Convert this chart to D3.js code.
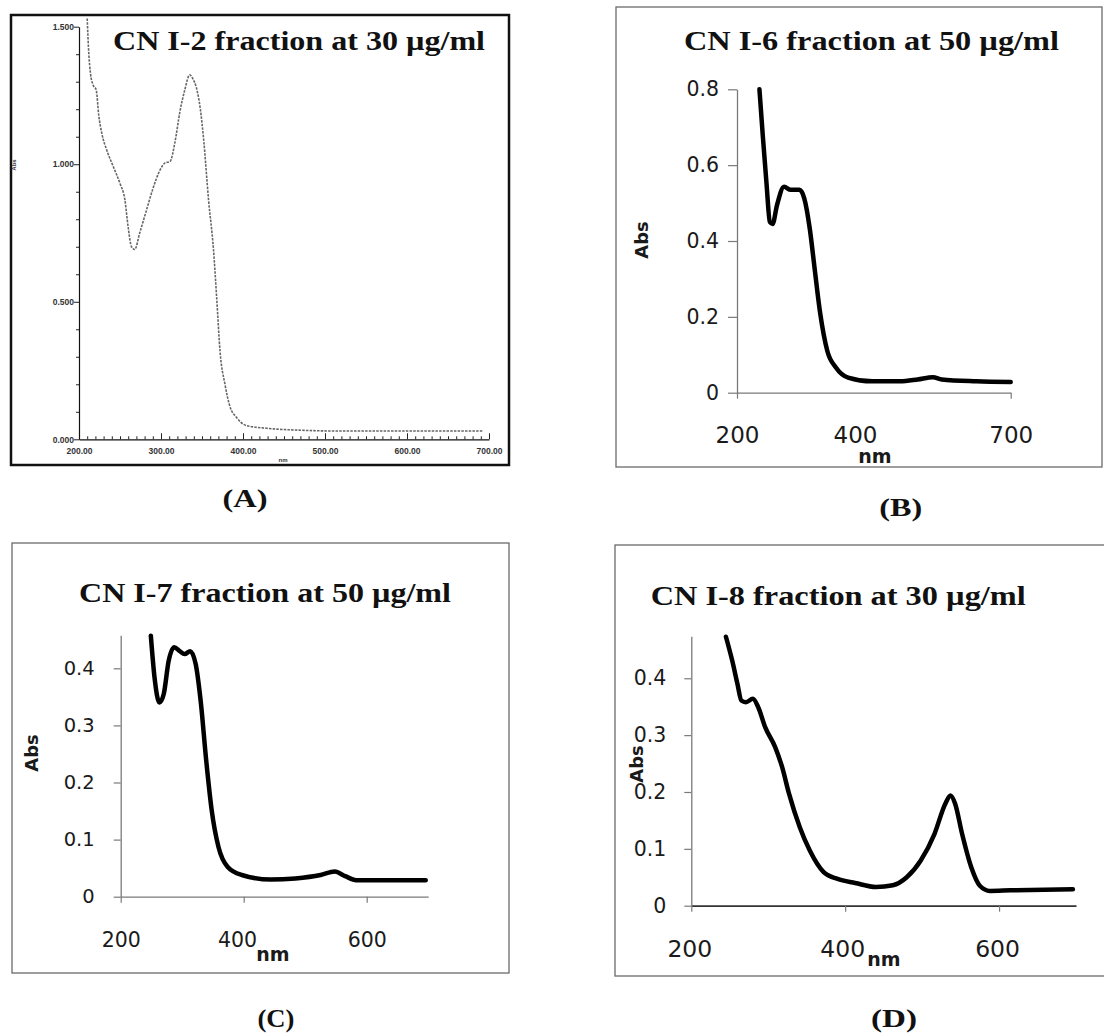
<!DOCTYPE html>
<html>
<head>
<meta charset="utf-8">
<script src="https://cdn.jsdelivr.net/npm/d3@7"></script>
<style>
  html, body { margin: 0; padding: 0; background: #fff; }
  svg { display: block; }
</style>
</head>
<body>
<div id="chart"></div>
<script>
// ---- data ----
const nmA = [210, 212, 214, 217, 221, 224, 228, 234, 242, 250, 256, 260, 264, 268, 274, 282, 290, 299, 305, 311, 317, 323, 329, 335, 339, 343, 348, 352, 358, 364, 368, 372, 378, 384, 392, 404, 429, 470, 520, 600, 650, 692];
const absA = [1.53, 1.40, 1.33, 1.29, 1.27, 1.18, 1.11, 1.05, 0.99, 0.93, 0.87, 0.77, 0.70, 0.69, 0.75, 0.83, 0.91, 0.98, 1.005, 1.01, 1.08, 1.19, 1.27, 1.325, 1.31, 1.28, 1.20, 1.09, 0.87, 0.69, 0.51, 0.32, 0.20, 0.12, 0.08, 0.05, 0.04, 0.033, 0.03, 0.03, 0.03, 0.03];

const nmB = [241, 247, 254, 260, 265, 273, 286, 298, 314, 323, 333, 342, 352, 365, 381, 403, 447, 498, 530, 558, 574, 637, 700];
const absB = [0.80, 0.68, 0.55, 0.45, 0.445, 0.494, 0.543, 0.535, 0.535, 0.512, 0.432, 0.325, 0.209, 0.11, 0.066, 0.04, 0.03, 0.03, 0.035, 0.041, 0.035, 0.03, 0.028];

const nmC = [249, 255, 263, 270, 278, 287, 296, 304, 313, 322, 330, 339, 348, 359, 374, 397, 444, 484, 525, 548, 565, 583, 641, 696];
const absC = [0.457, 0.384, 0.34, 0.355, 0.413, 0.437, 0.43, 0.425, 0.43, 0.407, 0.343, 0.239, 0.151, 0.087, 0.052, 0.038, 0.030, 0.032, 0.038, 0.044, 0.036, 0.029, 0.029, 0.029];

const nmD = [245, 253, 260, 265, 271, 280, 287, 296, 309, 318, 327, 341, 354, 372, 390, 413, 440, 462, 480, 498, 516, 530, 537, 543, 552, 564, 575, 588, 615, 696];
const absD = [0.473, 0.432, 0.39, 0.361, 0.358, 0.364, 0.349, 0.314, 0.279, 0.244, 0.197, 0.138, 0.097, 0.059, 0.047, 0.040, 0.033, 0.036, 0.05, 0.079, 0.126, 0.179, 0.194, 0.179, 0.126, 0.067, 0.035, 0.026, 0.027, 0.029];

const titles = ['CN I-2 fraction at 30 µg/ml', 'CN I-6 fraction at 50 µg/ml', 'CN I-7 fraction at 50 µg/ml', 'CN I-8 fraction at 30 µg/ml'];
const panelTags = ['(A)', '(B)', '(C)', '(D)'];

const xTicksA = d3.range(200, 701, 10);
const yTicksA = d3.range(0, 1.51, 0.1);
const xTicksB = [200, 400, 700];
const yTicksB = [0, 0.2, 0.4, 0.6, 0.8];
const xTicksCD = [200, 400, 600];
const yTicksCD = [0, 0.1, 0.2, 0.3, 0.4];

const W = 1104, H = 1033;
const svg = d3.select('#chart').append('svg')
  .attr('width', W)
  .attr('height', H);

const serif = 'Liberation Serif, Times New Roman, Times, serif';
const sans = 'DejaVu Sans, sans-serif';

// ============================================
// Panel A - instrument printout style
// ============================================
function drawPanelA() {
  const g = svg.append('g');
  g.append('rect')
    .attr('x', 11).attr('y', 15).attr('width', 498).attr('height', 450)
    .attr('fill', 'none').attr('stroke', '#111').attr('stroke-width', 2.5);

  const x = d3.scaleLinear().domain([200, 700]).range([79, 489]);
  const y = d3.scaleLinear().domain([0, 1.5]).range([439.3, 26.7]);

  const xAxis = g.append('g')
    .attr('transform', `translate(0,${y(0)})`)
    .call(d3.axisBottom(x)
      .tickValues(xTicksA)
      .tickSize(-3)
      .tickSizeOuter(0)
      .tickPadding(9)
      .tickFormat(d => d % 100 === 0 ? d3.format('.2f')(d) : ''));
  xAxis.selectAll('.tick line')
    .attr('y2', d => d % 100 === 0 ? -6 : -3);

  const yAxis = g.append('g')
    .attr('transform', `translate(${x(200)},0)`)
    .call(d3.axisLeft(y)
      .tickValues(yTicksA)
      .tickSize(3)
      .tickSizeOuter(0)
      .tickPadding(2)
      .tickFormat(d => Math.abs(d * 2 - Math.round(d * 2)) < 1e-6 ? d3.format('.3f')(d) : ''));
  yAxis.selectAll('.tick line')
    .attr('x2', d => Math.abs(d * 2 - Math.round(d * 2)) < 1e-6 ? -5 : -3);

  [xAxis, yAxis].forEach(a => {
    a.select('.domain').attr('stroke', '#111').attr('stroke-width', 1.2);
    a.selectAll('.tick line').attr('stroke', '#222');
    a.selectAll('text')
      .attr('font-family', 'Liberation Sans, Arial, sans-serif')
      .attr('font-size', 8.5).attr('font-weight', 'bold').attr('fill', '#333');
  });

  g.append('text')
    .attr('transform', 'translate(16,165) rotate(-90)')
    .attr('text-anchor', 'middle')
    .attr('font-family', 'Liberation Sans, Arial, sans-serif')
    .attr('font-size', 6).attr('font-weight', 'bold').attr('fill', '#333')
    .text('Abs');
  g.append('text')
    .attr('x', 283).attr('y', 462)
    .attr('text-anchor', 'middle')
    .attr('font-family', 'Liberation Sans, Arial, sans-serif')
    .attr('font-size', 6).attr('font-weight', 'bold').attr('fill', '#333')
    .text('nm');

  const line = d3.line()
    .x((d, i) => x(nmA[i]))
    .y(d => y(d))
    .curve(d3.curveMonotoneX);
  g.append('path')
    .datum(absA)
    .attr('d', line)
    .attr('fill', 'none')
    .attr('stroke', '#666')
    .attr('stroke-width', 1.6)
    .attr('stroke-dasharray', '2.5,1.2');

  g.append('text')
    .attr('x', 113).attr('y', 50)
    .style('font-family', serif).style('font-weight', 'bold').style('font-size', '28px')
    .attr('textLength', 372).attr('lengthAdjust', 'spacingAndGlyphs')
    .attr('fill', '#111')
    .text(titles[0]);
}

// ============================================
// Panels B, C, D - spreadsheet chart style
// ============================================
function drawSpectrum(cfg) {
  const g = svg.append('g');
  g.append('rect')
    .attr('x', cfg.box[0]).attr('y', cfg.box[1])
    .attr('width', cfg.box[2] - cfg.box[0]).attr('height', cfg.box[3] - cfg.box[1])
    .attr('fill', 'none').attr('stroke', '#6a6a6a').attr('stroke-width', 1.3);

  const x = d3.scaleLinear().domain([200, 700]).range(cfg.xRange);
  const y = d3.scaleLinear().domain([0, cfg.yMax]).range(cfg.yRange);

  const xAxis = g.append('g')
    .attr('transform', `translate(0,${y(0)})`)
    .call(d3.axisBottom(x)
      .tickValues(cfg.xTicks)
      .tickSize(6)
      .tickSizeOuter(0)
      .tickPadding(cfg.xPad)
      .tickFormat(d3.format('d')));
  xAxis.selectAll('.tick line')
    .attr('y2', d => cfg.noTick.includes(d) ? 0 : 6);
  xAxis.selectAll('.tick text')
    .attr('dx', d => cfg.labelShift[d] || 0)
    .attr('font-size', cfg.xFont);

  const yAxis = g.append('g')
    .attr('transform', `translate(${x(200)},0)`)
    .call(d3.axisLeft(y)
      .tickValues(cfg.yTicks)
      .tickSize(cfg.yTickLen)
      .tickSizeOuter(0)
      .tickPadding(cfg.yPad)
      .tickFormat(d => d === 0 ? '0' : d3.format('.1f')(d)));
  yAxis.selectAll('.tick text').attr('font-size', cfg.yFont);

  [xAxis, yAxis].forEach(a => {
    a.select('.domain').attr('stroke', '#7a7a7a').attr('stroke-width', 1.3);
    a.selectAll('.tick line').attr('stroke', '#7a7a7a').attr('stroke-width', 1.2);
    a.selectAll('.tick text').attr('font-family', sans).attr('fill', '#1a1a1a');
  });
  if (cfg.darkX) xAxis.select('.domain').attr('stroke', '#333').attr('stroke-width', 1.8);

  const line = d3.line()
    .x((d, i) => x(cfg.nm[i]))
    .y(d => y(d))
    .curve(d3.curveMonotoneX);
  g.append('path')
    .datum(cfg.abs)
    .attr('d', line)
    .attr('fill', 'none')
    .attr('stroke', '#000')
    .attr('stroke-width', 4.5)
    .attr('stroke-linejoin', 'round')
    .attr('stroke-linecap', 'round');

  g.append('text')
    .attr('transform', `translate(${cfg.absPos[0]},${cfg.absPos[1]}) rotate(-90)`)
    .attr('text-anchor', 'middle')
    .attr('dy', '0.35em')
    .attr('font-family', sans).attr('font-weight', 'bold').attr('font-size', 18)
    .attr('fill', '#1a1a1a')
    .text('Abs');

  g.append('text')
    .attr('x', cfg.nmPos[0]).attr('y', cfg.nmPos[1])
    .attr('text-anchor', 'middle')
    .attr('font-family', sans).attr('font-weight', 'bold').attr('font-size', 19)
    .attr('fill', '#1a1a1a')
    .text('nm');

  g.append('text')
    .attr('x', cfg.titlePos[0]).attr('y', cfg.titlePos[1])
    .style('font-family', serif).style('font-weight', 'bold').style('font-size', '27px')
    .attr('textLength', cfg.titleLen).attr('lengthAdjust', 'spacingAndGlyphs')
    .attr('fill', '#111')
    .text(cfg.title);
}

drawPanelA();

drawSpectrum({
  title: titles[1], titlePos: [684, 50], titleLen: 375,
  box: [616, 7, 1102, 467],
  nm: nmB, abs: absB, yMax: 0.8,
  xRange: [737, 1010.7], yRange: [392.7, 89.3],
  xTicks: xTicksB, yTicks: yTicksB, noTick: [400],
  labelShift: { 400: 8.5 },
  xFont: 23, yFont: 20.5, xPad: 28, yPad: 9, yTickLen: 9,
  absPos: [642, 240], nmPos: [875, 463]
});

drawSpectrum({
  title: titles[2], titlePos: [79, 601.7], titleLen: 372,
  box: [12, 543, 509, 973],
  nm: nmC, abs: absC, yMax: 0.458,
  xRange: [120.7, 428.2], yRange: [896.7, 635.2],
  xTicks: xTicksCD, yTicks: yTicksCD, noTick: [],
  labelShift: { 400: -6.7 },
  xFont: 20.5, yFont: 19.5, xPad: 30, yPad: 19, yTickLen: 7,
  absPos: [31.7, 753], nmPos: [273, 961]
});

drawSpectrum({
  title: titles[3], titlePos: [650.7, 605], titleLen: 375,
  box: [615, 545, 1112, 976],
  nm: nmD, abs: absD, yMax: 0.474,
  xRange: [691.3, 1076], yRange: [905.7, 636.2],
  xTicks: xTicksCD, yTicks: yTicksCD, noTick: [],
  labelShift: { 200: -2, 400: -3, 600: -2 },
  xFont: 23.5, yFont: 20.5, xPad: 28.5, yPad: 18, yTickLen: 7,
  absPos: [637, 764], nmPos: [884, 966], darkX: true
});

// Panel tags under each chart
const tagPos = [[245, 507, 45], [900.7, 516, 43], [276, 1027, 37], [894, 1027, 46]];
svg.selectAll('.tag')
  .data(panelTags)
  .enter()
  .append('text')
  .attr('class', 'tag')
  .attr('x', (d, i) => tagPos[i][0] - tagPos[i][2] / 2)
  .attr('y', (d, i) => tagPos[i][1])
  .attr('textLength', (d, i) => tagPos[i][2])
  .attr('lengthAdjust', 'spacingAndGlyphs')
  .style('font-family', serif).style('font-weight', 'bold').style('font-size', '25px')
  .attr('fill', '#111')
  .text(d => d);
</script>
</body>
</html>
